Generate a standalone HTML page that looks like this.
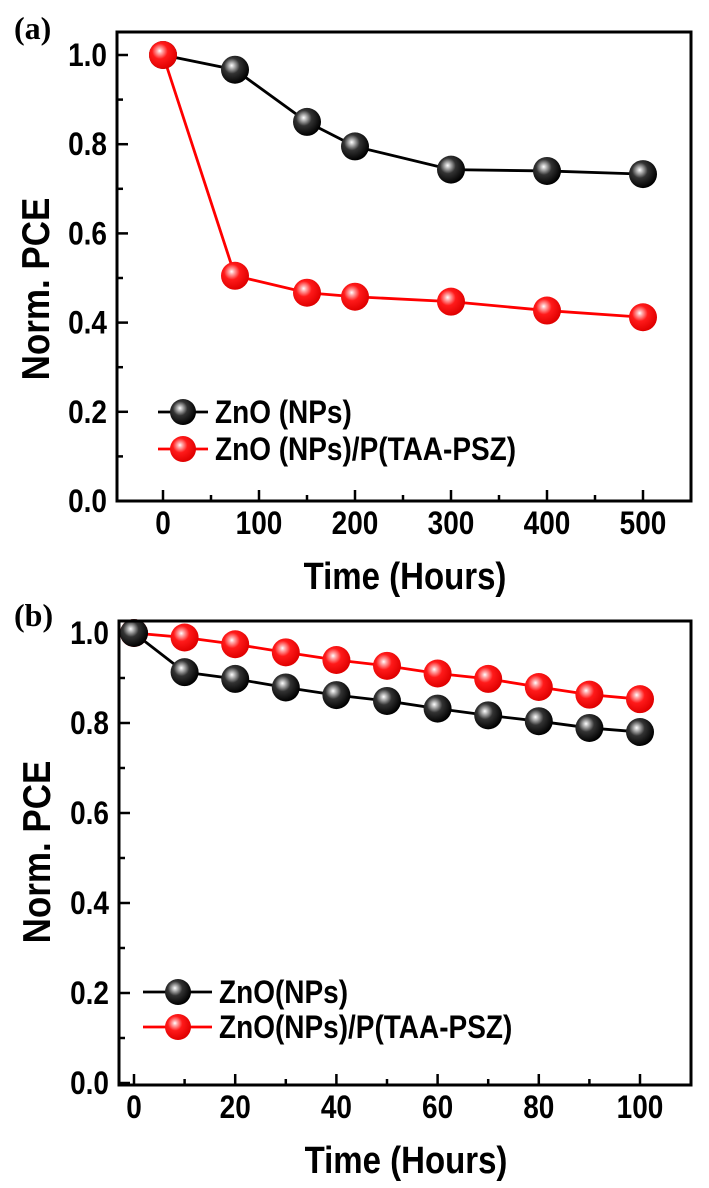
<!DOCTYPE html>
<html><head><meta charset="utf-8"><style>
html,body{margin:0;padding:0;background:#fff;}
svg{display:block;}
text{font-family:"Liberation Sans",Arial,sans-serif;font-weight:bold;fill:#000;}
.lbl{font-family:"Liberation Serif",serif;font-weight:bold;}
</style></head><body>
<svg id="s" width="709" height="1188" viewBox="0 0 709 1188" xmlns="http://www.w3.org/2000/svg">
<defs>
<radialGradient id="gk" cx="0.4" cy="0.38" r="0.62" fx="0.38" fy="0.35">
<stop offset="0" stop-color="#ffffff"/><stop offset="0.15" stop-color="#bbbbbb"/><stop offset="0.45" stop-color="#333"/><stop offset="1" stop-color="#000"/>
</radialGradient>
<radialGradient id="gr" cx="0.4" cy="0.38" r="0.62" fx="0.38" fy="0.35">
<stop offset="0" stop-color="#ffffff"/><stop offset="0.15" stop-color="#ffaaaa"/><stop offset="0.45" stop-color="#ff1a1a"/><stop offset="1" stop-color="#e00000"/>
</radialGradient>
</defs>

<text class="lbl" x="14" y="39" font-size="32">(a)</text>
<g id="pa"></g>
<rect x="117" y="32" width="574" height="469" fill="none" stroke="#000" stroke-width="3"/>
<text x="0" y="0" font-size="35" text-anchor="middle" transform="translate(49,289) rotate(-90) scale(1,1.1)">Norm. PCE</text>
<text x="0" y="0" font-size="33" text-anchor="middle" transform="translate(405,589) scale(1,1.15)">Time (Hours)</text>

<text class="lbl" x="14" y="626" font-size="32">(b)</text>
<g id="pb"></g>
<rect x="119" y="621" width="572" height="464" fill="none" stroke="#000" stroke-width="3"/>
<text x="0" y="0" font-size="35" text-anchor="middle" transform="translate(50,852) rotate(-90) scale(1,1.1)">Norm. PCE</text>
<text x="0" y="0" font-size="33" text-anchor="middle" transform="translate(406,1173) scale(1,1.15)">Time (Hours)</text>
</svg>
<script>
(function(){
var NS="http://www.w3.org/2000/svg";
function el(p,t,a,txt){var e=document.createElementNS(NS,t);for(var k in a)e.setAttribute(k,a[k]);if(txt!==undefined)e.textContent=txt;p.appendChild(e);return e;}
function txt(g,x,y,s,anchor,str){el(g,"text",{x:0,y:0,"font-size":s,"text-anchor":anchor,transform:"translate("+x+","+y+") scale(1,1.15)"},str);}
function panel(g,o){
  var X=function(v){return o.x0+v*o.xs;}, Y=function(v){return o.y0-v*o.ys;};
  for(var i=0;i<=10;i++){var v=i*0.1,y=Y(v),maj=i%2==0;
    el(g,"line",{x1:o.fl,x2:o.fl+(maj?11:6),y1:y,y2:y,stroke:"#000","stroke-width":2.5});
    if(maj) txt(g,o.fl-10,y+11,28,"end",v.toFixed(1));}
  o.xt.forEach(function(t){var x=X(t[0]);
    el(g,"line",{x1:x,x2:x,y1:o.fb,y2:o.fb-(t[1]?11:6),stroke:"#000","stroke-width":2.5});
    if(t[1]) txt(g,x,o.fb+33,28,"middle",String(t[0]));});
  o.series.forEach(function(s){
    var pts=s.d.map(function(p){return X(p[0])+","+Y(p[1]);}).join(" ");
    el(g,"polyline",{points:pts,fill:"none",stroke:s.c,"stroke-width":2.8});
  });
  o.series.forEach(function(s){
    s.d.forEach(function(p){el(g,"circle",{cx:X(p[0]),cy:Y(p[1]),r:14,fill:"url(#"+s.g+")"});});
  });
  o.leg.forEach(function(l){
    el(g,"line",{x1:l.x1,x2:l.x2,y1:l.y,y2:l.y,stroke:l.c,"stroke-width":2.8});
    el(g,"circle",{cx:l.m,cy:l.y,r:13,fill:"url(#"+l.g+")"});
    txt(g,l.tx,l.y+11,28,"start",l.t);
  });
}
var xa=[];for(var v=0;v<=500;v+=50)xa.push([v,v%100==0]);
panel(document.getElementById("pa"),{x0:163,xs:0.96,y0:501,ys:446,fl:117,fb:501,xt:xa,
 series:[
  {c:"#000",g:"gk",d:[[0,1.0],[75,0.967],[150,0.85],[200,0.795],[300,0.743],[400,0.74],[500,0.733]]},
  {c:"#ff0000",g:"gr",d:[[0,1.0],[75,0.505],[150,0.467],[200,0.458],[300,0.447],[400,0.427],[500,0.412]]}
 ],
 leg:[{x1:158,x2:208,m:183,y:412,c:"#000",g:"gk",tx:215,t:"ZnO (NPs)"},
      {x1:158,x2:208,m:183,y:449,c:"#ff0000",g:"gr",tx:215,t:"ZnO (NPs)/P(TAA-PSZ)"}]
});
var xb=[];for(var v=0;v<=100;v+=10)xb.push([v,v%20==0]);
panel(document.getElementById("pb"),{x0:134,xs:5.06,y0:1083,ys:450,fl:119,fb:1085,xt:xb,
 series:[
  {c:"#ff0000",g:"gr",d:[[0,1.0],[10,0.99],[20,0.975],[30,0.957],[40,0.94],[50,0.927],[60,0.91],[70,0.898],[80,0.88],[90,0.863],[100,0.853]]},
  {c:"#000",g:"gk",d:[[0,1.0],[10,0.913],[20,0.898],[30,0.879],[40,0.862],[50,0.849],[60,0.832],[70,0.817],[80,0.804],[90,0.789],[100,0.78]]}
 ],
 leg:[{x1:143,x2:212,m:178,y:992,c:"#000",g:"gk",tx:219,t:"ZnO(NPs)"},
      {x1:143,x2:212,m:178,y:1027,c:"#ff0000",g:"gr",tx:219,t:"ZnO(NPs)/P(TAA-PSZ)"}]
});
})();
</script>
</body></html>
